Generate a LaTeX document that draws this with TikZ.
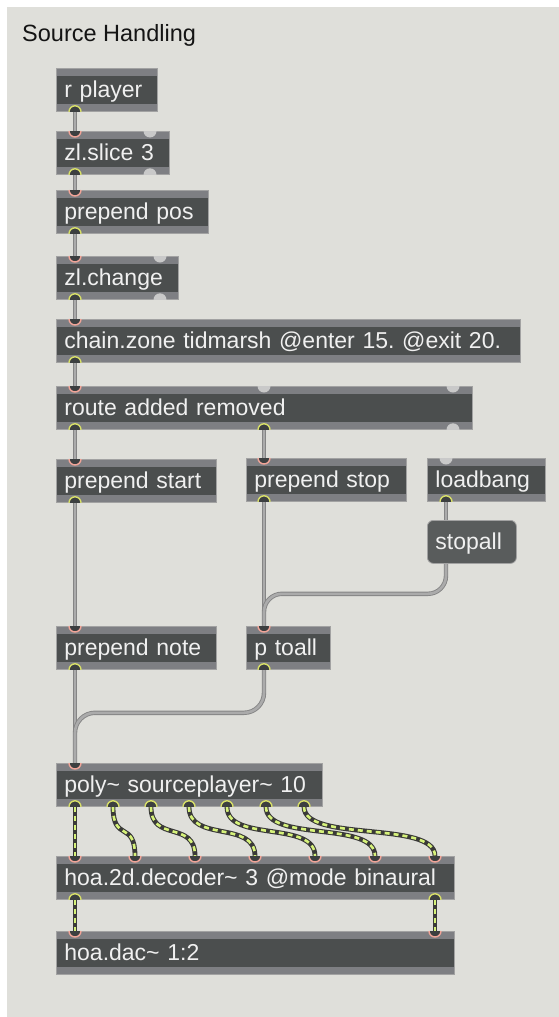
\documentclass[tikz,border=0pt]{standalone}
\usepackage{fontspec}
\setmainfont{Liberation Sans}
\frenchspacing

\definecolor{panel}{HTML}{DFDFDA}
\definecolor{objbody}{HTML}{4B4E4E}
\definecolor{objstripe}{HTML}{7E7F83}
\definecolor{objedge}{HTML}{A2A2A2}
\definecolor{objtext}{HTML}{F0F0F0}
\definecolor{inring}{HTML}{F0A498}
\definecolor{outring}{HTML}{D8E068}
\definecolor{portdark}{HTML}{3C3F40}
\definecolor{portidle}{HTML}{C9C9C9}
\definecolor{cordedge}{HTML}{858585}
\definecolor{cordfill}{HTML}{ABABAB}
\definecolor{sigdark}{HTML}{3A3A38}
\definecolor{sigdash}{HTML}{D6F27A}

\newcommand{\patchfont}{\fontsize{23pt}{27pt}\selectfont}

% ports: node, offset from left edge
\newcommand{\inletport}[2]{\filldraw[fill=portdark, draw=inring, line width=1.4pt] ([xshift=#2pt-6pt]#1.north west) arc (180:360:6pt);}
\newcommand{\outletport}[2]{\filldraw[fill=portdark, draw=outring, line width=1.4pt] ([xshift=#2pt-6pt]#1.south west) arc (180:0:6pt);}
\newcommand{\idleinport}[2]{\fill[portidle] ([xshift=#2pt-6.5pt]#1.north west) arc (180:360:6.5pt);}
\newcommand{\idleoutport}[2]{\fill[portidle] ([xshift=#2pt-6.5pt]#1.south west) arc (180:0:6.5pt);}

\pgfdeclarelayer{panellayer}
\pgfdeclarelayer{cordlayer}
\pgfsetlayers{panellayer,cordlayer,main}

\begin{document}
\begin{tikzpicture}[x=1pt, y=-1pt,
  box/.style={rectangle, anchor=north west, fill=objbody, draw=objedge, line width=0.8pt,
    inner xsep=8pt, inner ysep=0pt, text height=29pt, text depth=14pt,
    text=objtext, font=\patchfont, align=left, text width=#1,
    path picture={
      \fill[objstripe] (path picture bounding box.north west) rectangle ([yshift=-7.5pt]path picture bounding box.north east);
      \fill[objstripe] (path picture bounding box.south west) rectangle ([yshift=7.5pt]path picture bounding box.south east);
    }},
  msgbox/.style={box=#1, rounded corners=6pt, fill=objbody!92!white, path picture={}},
  cord/.style={draw=cordedge, double=cordfill, double distance=2.6pt, line width=0.9pt},
  sigcord/.style={draw=sigdash, line width=2.6pt, dash pattern=on 5pt off 4pt,
    preaction={draw=sigdark, line width=4.8pt}}]
\useasboundingbox (0,0) rectangle (559,1017);
\begin{pgfonlayer}{panellayer}
  \fill[panel] (7,7) rectangle (559,1017);
\end{pgfonlayer}

\node[anchor=base west, font=\fontsize{23.5pt}{28pt}\selectfont, text=black!92, inner sep=0pt] (title) at (22,41) {Source Handling};

% objects
\node[box=85pt] (rplay) at (56,68) {r player};
\node[box=97pt] (zlslice) at (56,131) {zl.slice 3};
\node[box=136pt] (prepos) at (56,190) {prepend pos};
\node[box=106pt] (zlchg) at (56,256) {zl.change};
\node[box=448pt] (chain) at (56,319) {chain.zone tidmarsh @enter 15. @exit 20.};
\node[box=400pt] (route) at (56,386) {route added removed};
\node[box=144pt] (pstart) at (56,459) {prepend start};
\node[box=144pt] (pstop) at (246,458) {prepend stop};
\node[box=102pt] (loadb) at (427,458) {loadbang};
\node[msgbox=73pt] (stopall) at (427,520) {stopall};
\node[box=144pt] (pnote) at (56,626) {prepend note};
\node[box=68pt] (ptoall) at (246,626) {p toall};
\node[box=250pt] (poly) at (56,763) {poly\textasciitilde{} sourceplayer\textasciitilde{} 10};
\node[box=382pt] (dec) at (56,856) {hoa.2d.decoder\textasciitilde{} 3 @mode binaural};
\node[box=382pt] (dac) at (56,931) {hoa.dac\textasciitilde{} 1:2};

% ports
\outletport{rplay}{19}
\inletport{zlslice}{19} \idleinport{zlslice}{94}
\outletport{zlslice}{19} \idleoutport{zlslice}{94}
\inletport{prepos}{19} \outletport{prepos}{19}
\inletport{zlchg}{19} \idleinport{zlchg}{104}
\outletport{zlchg}{19} \idleoutport{zlchg}{104}
\inletport{chain}{19} \outletport{chain}{19}
\inletport{route}{19} \idleinport{route}{208} \idleinport{route}{397}
\outletport{route}{19} \outletport{route}{208} \idleoutport{route}{397}
\inletport{pstart}{19} \outletport{pstart}{19}
\inletport{pstop}{18} \outletport{pstop}{18}
\idleinport{loadb}{19} \outletport{loadb}{19}
\inletport{pnote}{19} \outletport{pnote}{19}
\inletport{ptoall}{18} \outletport{ptoall}{18}
\inletport{poly}{19}
\foreach \o in {19,57,95,133,171,210,248} {\outletport{poly}{\o}}
\foreach \i in {19,79,139,199,259,319,379} {\inletport{dec}{\i}}
\outletport{dec}{19} \outletport{dec}{379}
\inletport{dac}{19} \inletport{dac}{379}

% patch cords
\begin{pgfonlayer}{cordlayer}
\draw[cord] ([xshift=19pt]rplay.south west) -- ([xshift=19pt]zlslice.north west);
\draw[cord] ([xshift=19pt]zlslice.south west) -- ([xshift=19pt]prepos.north west);
\draw[cord] ([xshift=19pt]prepos.south west) -- ([xshift=19pt]zlchg.north west);
\draw[cord] ([xshift=19pt]zlchg.south west) -- ([xshift=19pt]chain.north west);
\draw[cord] ([xshift=19pt]chain.south west) -- ([xshift=19pt]route.north west);
\draw[cord] ([xshift=19pt]route.south west) -- ([xshift=19pt]pstart.north west);
\draw[cord] ([xshift=208pt]route.south west) -- ([xshift=18pt]pstop.north west);
\draw[cord] ([xshift=19pt]pstart.south west) -- ([xshift=19pt]pnote.north west);
\draw[cord] ([xshift=18pt]pstop.south west) -- ([xshift=18pt]ptoall.north west);
\draw[cord] ([xshift=19pt]loadb.south west) -- ([xshift=19pt]stopall.north west);
\draw[cord, rounded corners=18pt] ([xshift=19pt]stopall.south west) -- ++(0,-30pt) -| ([xshift=18pt]ptoall.north west);
\draw[cord] ([xshift=19pt]pnote.south west) -- ([xshift=19pt]poly.north west);
\draw[cord, rounded corners=20pt] ([xshift=18pt]ptoall.south west) -- ++(0,-43pt) -| ([xshift=19pt]poly.north west);
% signal cords
\foreach \o/\i in {19/19,57/79,95/139,133/199,171/259,210/319,248/379}
  \draw[sigcord] ([xshift=\o pt]poly.south west) .. controls +(0,-36pt) and +(0,36pt) .. ([xshift=\i pt]dec.north west);
\draw[sigcord] ([xshift=19pt]dec.south west) -- ([xshift=19pt]dac.north west);
\draw[sigcord] ([xshift=379pt]dec.south west) -- ([xshift=379pt]dac.north west);
\end{pgfonlayer}
\end{tikzpicture}
\end{document}
